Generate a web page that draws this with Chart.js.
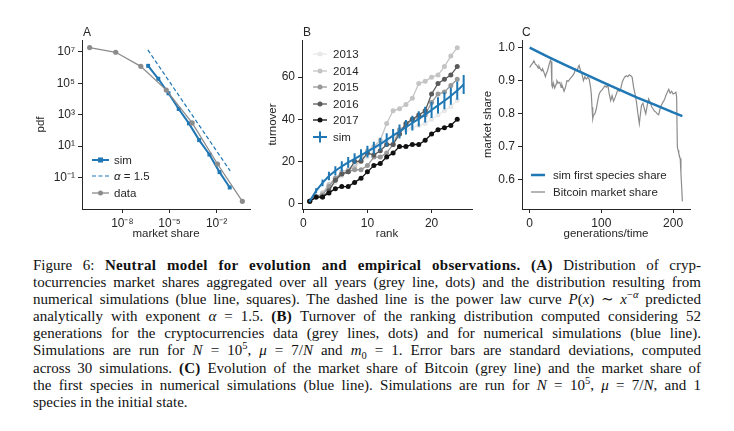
<!DOCTYPE html>
<html lang="en">
<head>
<meta charset="UTF-8">
<title>Figure 6</title>
<script src="https://cdn.jsdelivr.net/npm/chart.js"></script>
<style>
  body { margin: 0; background: #fff; width: 734px; height: 431px; overflow: hidden; position: relative;
         font-family: "Liberation Sans", Arial, sans-serif; color: #262626; }
  .panel { position: absolute; top: 0; }
  .panel canvas { display: block; }
  .tag { position: absolute; top: 26px; font-size: 12px; line-height: 13px; }
  .legend { position: absolute; font-size: 11.5px; }
  .legend div { display: flex; align-items: center; white-space: nowrap; }
  .caption { position: absolute; left: 33px; top: 257px; width: 668px; font-family: "Liberation Serif", "DejaVu Serif", serif;
             font-size: 15px; line-height: 17.1px; color: #111; }
  .caption div { white-space: nowrap; text-align: justify; text-align-last: justify; }
  .caption div.last { text-align-last: left; }
  .caption b { letter-spacing: 0.3px; }
  .caption sup, .caption sub { font-size: 0.7em; line-height: 0; }
</style>
</head>
<body>
<div class="panel" style="left:0"><canvas id="chartA" width="260" height="250"></canvas></div>
<div class="panel" style="left:260px"><canvas id="chartB" width="220" height="250"></canvas></div>
<div class="panel" style="left:480px"><canvas id="chartC" width="254" height="250"></canvas></div>

<div class="tag" style="left:83px">A</div>
<div class="tag" style="left:303px">B</div>
<div class="tag" style="left:522px">C</div>

<!-- legend A -->
<div class="legend" style="left:92px; top:152px">
  <div style="height:16.3px"><svg width="17" height="10" style="margin-right:5px"><line x1="0" y1="5" x2="17" y2="5" stroke="#1f77b4" stroke-width="2"/><rect x="6" y="2.5" width="5" height="5" fill="#1f77b4"/></svg>sim</div>
  <div style="height:16.3px"><svg width="17" height="10" style="margin-right:5px"><line x1="0" y1="5" x2="17" y2="5" stroke="#1f77b4" stroke-width="1.2" stroke-dasharray="4,2.5"/></svg><i>α</i>&nbsp;=&nbsp;1.5</div>
  <div style="height:16.3px"><svg width="17" height="10" style="margin-right:5px"><line x1="0" y1="5" x2="17" y2="5" stroke="#8c8c8c" stroke-width="1.3"/><circle cx="8.5" cy="5" r="2.5" fill="#8c8c8c"/></svg>data</div>
</div>

<!-- legend B -->
<div class="legend" style="left:313px; top:46px" id="legendB"></div>

<!-- legend C -->
<div class="legend" style="left:531px; top:167px">
  <div style="height:16.6px"><svg width="14" height="10" style="margin-right:8px"><line x1="0" y1="5" x2="14" y2="5" stroke="#1f77b4" stroke-width="2.5"/></svg>sim first species share</div>
  <div style="height:16.6px"><svg width="14" height="10" style="margin-right:8px"><line x1="0" y1="5" x2="14" y2="5" stroke="#8c8c8c" stroke-width="1.3"/></svg>Bitcoin market share</div>
</div>

<div class="caption" id="caption">
  <div>Figure 6: <b>Neutral model for evolution and empirical observations.</b> <b>(A)</b> Distribution of cryp-</div>
  <div>tocurrencies market shares aggregated over all years (grey line, dots) and the distribution resulting from</div>
  <div>numerical simulations (blue line, squares). The dashed line is the power law curve <i>P</i>(<i>x</i>) ∼ <i>x</i><sup>−<i>α</i></sup> predicted</div>
  <div>analytically with exponent <i>α</i> = 1.5. <b>(B)</b> Turnover of the ranking distribution computed considering 52</div>
  <div>generations for the cryptocurrencies data (grey lines, dots) and for numerical simulations (blue line).</div>
  <div>Simulations are run for <i>N</i> = 10<sup>5</sup>, <i>μ</i> = 7/<i>N</i> and <i>m</i><sub>0</sub> = 1. Error bars are standard deviations, computed</div>
  <div>across 30 simulations. <b>(C)</b> Evolution of the market share of Bitcoin (grey line) and the market share of</div>
  <div>the first species in numerical simulations (blue line). Simulations are run for <i>N</i> = 10<sup>5</sup>, <i>μ</i> = 7/<i>N</i>, and 1</div>
  <div class="last">species in the initial state.</div>
</div>

<script>
// --- panel A: market share distribution (log-log)
const dataShare = [8.3e-11, 3.8e-9, 1.5e-7, 6.3e-6, 2.8e-4, 1.15e-2, 0.44];
const dataPdf = [1.9e7, 9.5e6, 1.2e6, 3.7e4, 300, 0.72, 3.0e-3];
const simShareA = [4.4e-7, 1.95e-6, 8.7e-6, 3.9e-5, 1.74e-4, 7.8e-4, 3.5e-3, 1.55e-2, 6.9e-2];
const simPdf = [1.3e6, 1.95e5, 2.3e4, 2.3e3, 280, 24, 2.9, 0.22, 0.023];
const powerShare = [4.2e-7, 7.4e-2];
const powerPdf = [1.35e7, 0.26];
const xTickExpA = [-8, -5, -2];
const yTickExpA = [7, 5, 3, 1, -1];

// --- panel B: turnover vs rank
const rankYears = [1,2,3,4,5,6,7,8,9,10,11,12,13,14,15,16,17,18,19,20,21,22,23,24];
const years = ['2013', '2014', '2015', '2016', '2017'];
const yearColors = ['#e8e8e8', '#c4c4c4', '#989898', '#5a5a5a', '#111111'];
const turnover2013 = [1, 3, 5, 7, 10, 13, 15, 17, 20, 22, 25, 28, 30, 32, 34, 35, 36, 37, 38, 40, 42, 44, 46, 49];
const turnover2014 = [1, 3, 5, 9, 12, 15, 16, 17, 22, 25, 27, 30, 38, 44, 45, 47, 50, 57, 58, 60, 61, 65, 70, 74];
const turnover2015 = [1, 3, 4, 8, 12, 14, 15, 16, 16, 18, 22, 22, 24, 28, 35, 37, 40, 41, 42, 48, 52, 53, 56, 59];
const turnover2016 = [1, 3, 3, 6, 11, 14, 15, 20, 20, 24, 23, 25, 28, 28, 33, 38, 40, 42, 44, 52, 57, 59, 61, 65];
const turnover2017 = [1, 3, 3, 5, 7, 8, 8, 10, 12, 15, 18, 19, 22, 24, 27, 27, 28, 28, 30, 33, 35, 36, 37, 40];
const rankSim = [1,2,3,4,5,6,7,8,9,10,11,12,13,14,15,16,17,18,19,20,21,22,23,24,25];
const simTurnover = [1, 6, 9.8, 13, 15.5, 17.6, 19.5, 21.2, 23, 24.6, 26.4, 28.2, 30.2, 32.2, 34.2, 36.2, 38.2, 40.2, 42.2, 44.4, 46.6, 48.8, 51, 53.6, 56.5];
const simStd = [0.3, 1.2, 1.6, 2, 2.2, 2.4, 2.5, 2.6, 2.7, 2.8, 2.9, 3.0, 3.1, 3.2, 3.3, 3.4, 3.5, 3.6, 3.7, 3.8, 3.9, 4.0, 4.1, 4.3, 4.5];
const xTicksB = [0, 10, 20];
const yTicksB = [0, 20, 40, 60];

// --- panel C: market share over time
const simGen = [0, 25, 50, 75, 100, 125, 150, 175, 200, 213];
const simFirstShare = [1.000, 0.973, 0.947, 0.922, 0.897, 0.873, 0.849, 0.827, 0.804, 0.793];
const btcGen = [0, 2, 4, 6, 8, 10, 12, 13, 15, 17, 18, 20, 22, 23, 25, 27, 29, 30, 31, 32, 33, 35, 37, 38, 40, 42, 44, 45, 47, 48,
  50, 52, 54, 56, 58, 60, 62, 64, 66, 68, 69, 71, 73, 75, 77, 79, 81, 83, 85, 86, 87, 88, 89, 91, 93, 95, 97, 99, 101, 103,
  105, 107, 109, 111, 113, 115, 117, 119, 121, 123, 125, 127, 129, 131, 133, 135, 137, 139, 141, 143, 145, 147, 149, 151, 153, 154,
  156, 158, 160, 162, 164, 166, 168, 170, 172, 174, 176, 178, 180, 182, 184, 186, 188, 190, 192, 194, 196, 198, 200, 202, 204, 205,
  206, 207, 208, 209, 210, 211, 212, 213];
const btcShare = [0.940, 0.947, 0.952, 0.960, 0.950, 0.946, 0.938, 0.944, 0.935, 0.930, 0.936, 0.925, 0.912, 0.920, 0.930, 0.948, 0.962, 0.958, 0.885, 0.880,
  0.893, 0.878, 0.890, 0.900, 0.893, 0.895, 0.880, 0.888, 0.875, 0.868, 0.880, 0.900, 0.898, 0.905, 0.910, 0.915, 0.922, 0.935, 0.930, 0.942,
  0.946, 0.930, 0.920, 0.900, 0.912, 0.905, 0.910, 0.905, 0.880, 0.860, 0.820, 0.785, 0.795, 0.800, 0.815, 0.840, 0.860, 0.868, 0.872, 0.878,
  0.885, 0.880, 0.888, 0.860, 0.840, 0.855, 0.838, 0.848, 0.860, 0.873, 0.868, 0.875, 0.895, 0.905, 0.912, 0.915, 0.912, 0.918, 0.915, 0.910,
  0.880, 0.860, 0.835, 0.800, 0.770, 0.790, 0.825, 0.832, 0.815, 0.800, 0.825, 0.845, 0.835, 0.822, 0.815, 0.808, 0.805, 0.800, 0.797, 0.815,
  0.827, 0.835, 0.842, 0.855, 0.865, 0.874, 0.862, 0.868, 0.860, 0.862, 0.865, 0.850, 0.700, 0.690, 0.680, 0.672, 0.665, 0.620, 0.580, 0.535];
const xTicksC = [0, 100, 200];
const yTicksC = [0.6, 0.7, 0.8, 0.9, 1.0];

const blue = '#1f77b4';
const grey = '#8c8c8c';
const ink = '#262626';

// squeeze caption lines that are wider than the column
document.querySelectorAll('#caption div').forEach(line => {
  line.style.display = 'inline-block';
  const w = line.getBoundingClientRect().width;
  line.style.display = '';
  if (w > 668) {
    const n = line.textContent.length;
    line.style.letterSpacing = ((668 - w) / n - 0.02) + 'px';
  }
});

Chart.defaults.font.family = '"Liberation Sans", Arial, sans-serif';
Chart.defaults.font.size = 12;
Chart.defaults.color = ink;

const sup = { '-': '⁻', '0': '⁰', '1': '¹', '2': '²', '3': '³', '4': '⁴', '5': '⁵', '6': '⁶', '7': '⁷', '8': '⁸', '9': '⁹' };
function powLabel(v) {
  const e = String(Math.round(Math.log10(v)));
  return '10' + e.split('').map(c => sup[c]).join('');
}
function pts(xs, ys) { return xs.map((x, i) => ({ x: x, y: ys[i] })); }

// shared axis look (seaborn "ticks", despined)
function axis(opts) {
  const ticks = opts.ticks;
  return {
    type: opts.type || 'linear',
    min: opts.min, max: opts.max,
    afterBuildTicks: a => { a.ticks = ticks.map(v => ({ value: v })); },
    afterFit: opts.fit,
    ticks: { autoSkip: false, maxRotation: 0, padding: 3, color: ink, font: { size: 12 }, callback: opts.label },
    grid: { display: true, drawOnChartArea: false, tickLength: 4, color: ink, tickWidth: 1 },
    border: { display: true, color: ink, width: 1 },
    title: { display: true, text: opts.title, color: ink, font: { size: 11.5 }, padding: opts.titlePad }
  };
}
const baseOpts = {
  responsive: false, animation: false, maintainAspectRatio: false,
  plugins: { legend: { display: false }, tooltip: { enabled: false } }
};

// panel A
new Chart(document.getElementById('chartA'), {
  type: 'line',
  data: {
    datasets: [
      { label: 'sim', data: pts(simShareA, simPdf), borderColor: blue, backgroundColor: blue, borderWidth: 2,
        pointStyle: 'rect', pointRadius: 2.8, pointBorderWidth: 0, order: 1 },
      { label: 'α = 1.5', data: pts(powerShare, powerPdf), borderColor: blue, borderWidth: 1.2, borderDash: [4, 2.5],
        pointRadius: 0, order: 2 },
      { label: 'data', data: pts(dataShare, dataPdf), borderColor: grey, backgroundColor: grey, borderWidth: 1.3,
        pointRadius: 2.6, pointBorderWidth: 0, order: 0 }
    ]
  },
  options: Object.assign({}, baseOpts, {
    layout: { padding: { top: 40, right: 10, left: 0, bottom: 0 } },
    scales: {
      x: axis({ type: 'logarithmic', min: 2.7e-11, max: 1.35, ticks: xTickExpA.map(e => Math.pow(10, e)), label: powLabel,
        fit: s => { s.height = 41; }, title: 'market share', titlePad: { top: 0, bottom: 9 } }),
      y: axis({ type: 'logarithmic', min: 9.8e-4, max: 5.75e7, ticks: yTickExpA.map(e => Math.pow(10, e)), label: powLabel,
        fit: s => { s.width = 82; }, title: 'pdf', titlePad: { top: 34, bottom: 0 } })
    }
  })
});

// panel B
const yearSeries = [turnover2013, turnover2014, turnover2015, turnover2016, turnover2017];
const yearSets = years.map((yr, k) => ({
  label: yr, data: pts(rankYears, yearSeries[k]), borderColor: yearColors[k], backgroundColor: yearColors[k],
  borderWidth: 1.3, pointRadius: 2.5, pointBorderWidth: 0, order: 6 - k
}));
const errData = rankSim.flatMap((r, i) => [
  { x: r, y: simTurnover[i] - simStd[i] }, { x: r, y: simTurnover[i] + simStd[i] }, { x: r, y: null }
]);
new Chart(document.getElementById('chartB'), {
  type: 'line',
  data: {
    datasets: yearSets.concat([
      { label: 'sim', data: pts(rankSim, simTurnover), borderColor: blue, borderWidth: 2, pointRadius: 0, order: 0 },
      { label: 'sim err', data: errData, borderColor: blue, borderWidth: 2, pointRadius: 0, spanGaps: false, order: 0 }
    ])
  },
  options: Object.assign({}, baseOpts, {
    layout: { padding: { top: 40, right: 8, left: 0, bottom: 0 } },
    scales: {
      x: axis({ min: -0.2, max: 26.3, ticks: xTicksB, label: v => String(v),
        fit: s => { s.height = 41; }, title: 'rank', titlePad: { top: 0, bottom: 9 } }),
      y: axis({ min: -2.65, max: 77.65, ticks: yTicksB, label: v => String(v),
        fit: s => { s.width = 42; }, title: 'turnover', titlePad: { top: 6, bottom: 0 } })
    }
  })
});

// legend B (html)
const legendB = document.getElementById('legendB');
years.forEach((yr, k) => {
  legendB.insertAdjacentHTML('beforeend',
    '<div style="height:16.5px"><svg width="14" height="10" style="margin-right:6px"><line x1="0" y1="5" x2="14" y2="5" stroke="' +
    yearColors[k] + '" stroke-width="1.3"/><circle cx="7" cy="5" r="2.5" fill="' + yearColors[k] + '"/></svg>' + yr + '</div>');
});
legendB.insertAdjacentHTML('beforeend',
  '<div style="height:16.5px"><svg width="14" height="12" style="margin-right:6px"><line x1="0" y1="6" x2="14" y2="6" stroke="' + blue +
  '" stroke-width="2"/><line x1="7" y1="0.5" x2="7" y2="11.5" stroke="' + blue + '" stroke-width="2"/></svg>sim</div>');

// panel C
new Chart(document.getElementById('chartC'), {
  type: 'line',
  data: {
    datasets: [
      { label: 'sim first species share', data: pts(simGen, simFirstShare), borderColor: blue, borderWidth: 2.5, pointRadius: 0, order: 0 },
      { label: 'Bitcoin market share', data: pts(btcGen, btcShare), borderColor: grey, borderWidth: 1.2, pointRadius: 0, order: 1 }
    ]
  },
  options: Object.assign({}, baseOpts, {
    layout: { padding: { top: 40, right: 44, left: 0, bottom: 0 } },
    scales: {
      x: axis({ min: -10.65, max: 223.65, ticks: xTicksC, label: v => String(v),
        fit: s => { s.height = 41; }, title: 'generations/time', titlePad: { top: 0, bottom: 9 } }),
      y: axis({ min: 0.512, max: 1.023, ticks: yTicksC, label: v => v.toFixed(1),
        fit: s => { s.width = 42; }, title: 'market share', titlePad: { top: 1, bottom: 0 } })
    }
  })
});
</script>
</body>
</html>
